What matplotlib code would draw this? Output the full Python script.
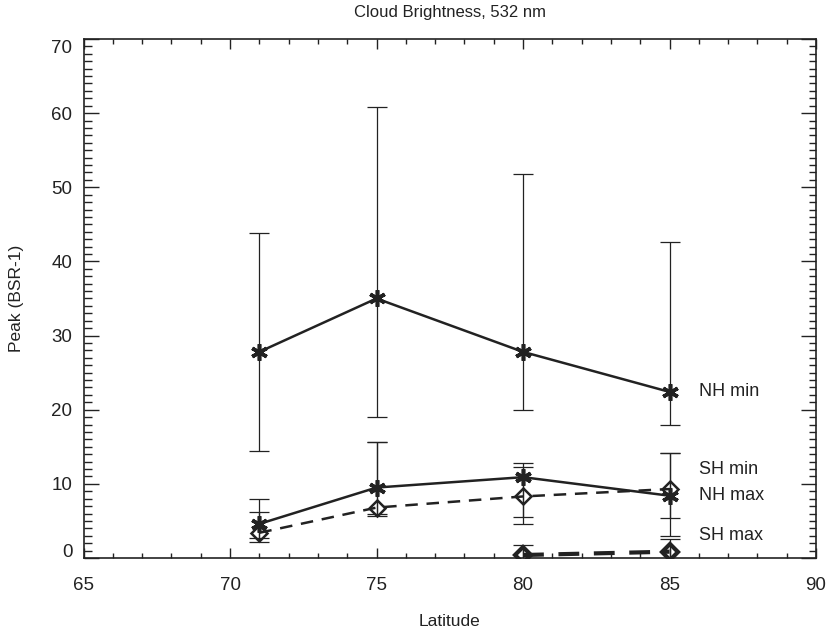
import numpy as np
import matplotlib
matplotlib.use('Agg')
import matplotlib.pyplot as plt
from matplotlib.ticker import MultipleLocator
from matplotlib.transforms import ScaledTranslation

plt.rcParams['font.family'] = ['Liberation Sans', 'DejaVu Sans']

lat = [71, 75, 80, 85]

nh_min = [27.8, 35.0, 27.8, 22.4]
nh_min_hi = [43.8, 60.8, 51.8, 42.6]
nh_min_lo = [14.4, 19.0, 20.0, 18.0]

nh_max = [4.6, 9.5, 10.9, 8.4]
nh_max_hi = [8.0, 15.6, 12.8, 14.1]
nh_max_lo = [2.7, 5.9, 4.6, 3.0]

sh_min = [3.4, 6.8, 8.3, 9.3]
sh_min_hi = [6.2, 15.6, 12.3, 14.1]
sh_min_lo = [2.2, 5.6, 5.5, 5.4]

lat_sh_max = [80, 85]
sh_max = [0.4, 0.85]
sh_max_hi = [1.7, 2.6]
sh_max_lo = [-0.9, -0.9]

labels = ['NH min', 'SH min', 'NH max', 'SH max']
label_y = [22.4, 11.9, 8.4, 3.0]

fig = plt.figure(figsize=(8.32, 6.33), dpi=100)
ax = fig.add_axes([0.1004, 0.1185, 0.8804, 0.8199])

col = '#222222'

def draw(x, y, hi, lo, marker, ls, lw, ms, mew):
    y = np.array(y)
    err = [y - np.array(lo), np.array(hi) - y]
    ax.errorbar(x, y, yerr=err, fmt='none', ecolor=col, elinewidth=0.9,
                capsize=7, capthick=0.9)
    if ls == '--':
        ax.plot(x, y, color=col, lw=lw, ls=(0, (5, 3.5)))
    else:
        ax.plot(x, y, color=col, lw=lw, ls='-')
    if marker == 'ast':
        ax.plot(x, y, ls='none', marker=(6, 2, 0), ms=ms, mew=mew, color=col)
    else:
        ax.plot(x, y, ls='none', marker='D', ms=ms, mew=mew, mfc='none', mec=col)

draw(lat, nh_min, nh_min_hi, nh_min_lo, 'ast', '-', 1.8, 12, 2.6)
draw(lat, nh_max, nh_max_hi, nh_max_lo, 'ast', '-', 1.8, 12, 2.6)
draw(lat, sh_min, sh_min_hi, sh_min_lo, 'dia', '--', 1.8, 8, 1.8)
draw(lat_sh_max, sh_max, sh_max_hi, sh_max_lo, 'dia', '--', 3.0, 8, 3.0)

for lab, yy in zip(labels, label_y):
    ax.text(86.0, yy, lab, fontsize=13, va='center', ha='left', color=col)

ax.set_xlim(65, 90)
ax.set_ylim(0, 70)
ax.xaxis.set_major_locator(MultipleLocator(5))
ax.xaxis.set_minor_locator(MultipleLocator(1))
ax.yaxis.set_major_locator(MultipleLocator(10))
ax.yaxis.set_minor_locator(MultipleLocator(1))

ax.tick_params(axis='x', which='major', direction='in', length=7.2, width=1,
               top=True, labelsize=13.5, pad=14, colors=col)
ax.tick_params(axis='x', which='minor', direction='in', length=3.5, width=1, top=True, colors=col)
ax.tick_params(axis='y', which='major', direction='in', length=10.8, width=1,
               right=True, labelsize=13.5, pad=8, colors=col)
ax.tick_params(axis='y', which='minor', direction='in', length=5.4, width=1, right=True, colors=col)
for s in ax.spines.values():
    s.set_linewidth(1.2)
    s.set_color(col)

ax.set_xlabel('Latitude', fontsize=12.5, labelpad=14, color=col)
ax.set_ylabel('Peak (BSR-1)', fontsize=12.5, labelpad=20, color=col)
ax.set_title('Cloud Brightness, 532 nm', fontsize=12, pad=16, color=col)

# nudge the end labels inside the axis range, as in the original
fig.canvas.draw()
locs = ax.yaxis.get_majorticklocs()
ticks = ax.yaxis.get_major_ticks(len(locs))
for loc, tk in zip(locs, ticks):
    if np.isclose(loc, 0):
        tk.label1.set_transform(tk.label1.get_transform() +
                                ScaledTranslation(0, 0.07, fig.dpi_scale_trans))
    elif np.isclose(loc, 70):
        tk.label1.set_transform(tk.label1.get_transform() +
                                ScaledTranslation(0, -0.08, fig.dpi_scale_trans))

fig.savefig('out.png', dpi=100)
